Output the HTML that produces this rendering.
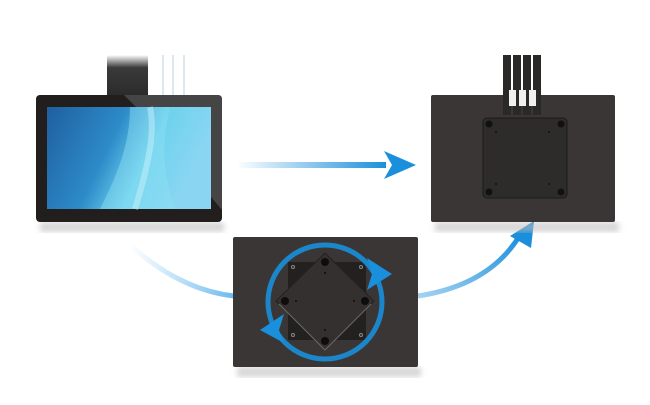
<!DOCTYPE html>
<html><head><style>body{margin:0;background:#fff;width:650px;height:400px;overflow:hidden}</style></head><body>
<svg width="650" height="400" viewBox="0 0 650 400" xmlns="http://www.w3.org/2000/svg">
<defs>
<linearGradient id="scr" x1="0" y1="0" x2="1" y2="0.3">
<stop offset="0" stop-color="#1f5fa0"/><stop offset="0.45" stop-color="#2d8bc8"/><stop offset="0.7" stop-color="#6fd2ee"/><stop offset="1" stop-color="#8ad6f2"/></linearGradient>
<linearGradient id="ha" x1="0" y1="0" x2="1" y2="0"><stop offset="0" stop-color="#1a8fdc" stop-opacity="0"/><stop offset="1" stop-color="#1a8fdc"/></linearGradient>
<linearGradient id="lc" x1="0" y1="0" x2="1" y2="0"><stop offset="0" stop-color="#7cc4ef" stop-opacity="0"/><stop offset="1" stop-color="#6cbaf0"/></linearGradient>
<linearGradient id="rc" x1="0" y1="1" x2="1" y2="0"><stop offset="0" stop-color="#1a8fdc" stop-opacity="0.4"/><stop offset="1" stop-color="#1a8fdc"/></linearGradient>
<linearGradient id="cab" x1="0" y1="0" x2="0" y2="1"><stop offset="0" stop-color="#fff"/><stop offset="0.3" stop-color="#3a3a3a"/><stop offset="1" stop-color="#2a2a2a"/></linearGradient>
<filter id="sh"><feGaussianBlur stdDeviation="3"/></filter>
</defs>
<rect x="107" y="55" width="41" height="42" fill="url(#cab)"/>
<g stroke="#dde8ee" stroke-width="2"><line x1="163" y1="55" x2="163" y2="96"/><line x1="173" y1="55" x2="173" y2="96"/><line x1="184" y1="55" x2="184" y2="96"/></g>
<rect x="40" y="222" width="184" height="10" fill="#bbb" opacity="0.6" filter="url(#sh)"/>
<rect x="36" y="95" width="186" height="127" rx="4" fill="#231e1e"/>
<path d="M124 95 L218 95 Q222 95 222 99 L222 210 L136 107 Z" fill="#555" opacity="0.7"/>
<rect x="47" y="107" width="164" height="102" fill="url(#scr)"/>
<path d="M100 209 C120 170 130 140 130 107 L170 107 C160 150 165 180 175 209 Z" fill="#8fe0f4" opacity="0.45"/>
<path d="M135 209 C150 160 155 130 150 107" stroke="#c8f2fa" stroke-width="6" fill="none" opacity="0.5"/>
<path d="M130 245 Q180 290 234 296" stroke="url(#lc)" stroke-width="5" fill="none"/>
<rect x="236" y="162" width="150" height="6" fill="url(#ha)"/>
<polygon points="384,151 416,165 384,179 392,165" fill="#1a8fdc"/>
<path d="M418 296 Q490 285 520 235" stroke="url(#rc)" stroke-width="5" fill="none"/>
<polygon points="510,236 534,221 531,248" fill="#1a8fdc"/>
<rect x="435" y="222" width="184" height="10" fill="#bbb" opacity="0.6" filter="url(#sh)"/>
<rect x="431" y="95" width="184" height="127" rx="2" fill="#3a3636"/>
<g fill="#2b2828"><rect x="503" y="55" width="8" height="60"/><rect x="513" y="55" width="8" height="60"/><rect x="523" y="55" width="8" height="60"/><rect x="533" y="55" width="8" height="60"/></g>
<g fill="#f0f0f0"><rect x="509" y="90" width="7" height="16"/><rect x="519" y="90" width="7" height="16"/><rect x="529" y="90" width="7" height="16"/></g>
<rect x="483" y="118" width="84" height="80" rx="4" fill="#2e2b2b" stroke="#1c1a1a"/>
<g fill="#111"><circle cx="489" cy="124" r="3.5"/><circle cx="561" cy="124" r="3.5"/><circle cx="489" cy="192" r="3.5"/><circle cx="561" cy="192" r="3.5"/><circle cx="496" cy="132" r="1"/><circle cx="549" cy="132" r="1"/><circle cx="496" cy="184" r="1"/><circle cx="549" cy="184" r="1"/></g>
<rect x="237" y="367" width="184" height="10" fill="#bbb" opacity="0.6" filter="url(#sh)"/>
<rect x="233" y="237" width="185" height="130" rx="2" fill="#3a3636"/>
<rect x="288" y="262" width="78" height="78" fill="#232020"/>
<g fill="none" stroke="#888" stroke-width="1"><circle cx="293" cy="267" r="1.5"/><circle cx="361" cy="267" r="1.5"/><circle cx="293" cy="335" r="1.5"/><circle cx="361" cy="335" r="1.5"/></g>
<circle cx="325" cy="302" r="57" fill="none" stroke="#1a8fdc" stroke-width="5" opacity="0.9"/>
<polygon points="367,258 392,274 367,290 372,274" fill="#1a8fdc"/>
<polygon points="284,314 260,330 284,343 279,330" fill="#1a8fdc"/>
<polygon points="325,253 374,301 325,350 276,301" fill="#343030" stroke="#222"/>
<path d="M279 304 L325 350 L371 304" stroke="#999" stroke-width="1" fill="none" opacity="0.6"/>
<g fill="#0d0d0d"><circle cx="325" cy="262" r="4"/><circle cx="365" cy="301" r="4"/><circle cx="325" cy="341" r="4"/><circle cx="285" cy="301" r="4"/><circle cx="325" cy="273" r="1"/><circle cx="354" cy="301" r="1"/><circle cx="325" cy="330" r="1"/><circle cx="296" cy="301" r="1"/></g>
</svg>
</body></html>
